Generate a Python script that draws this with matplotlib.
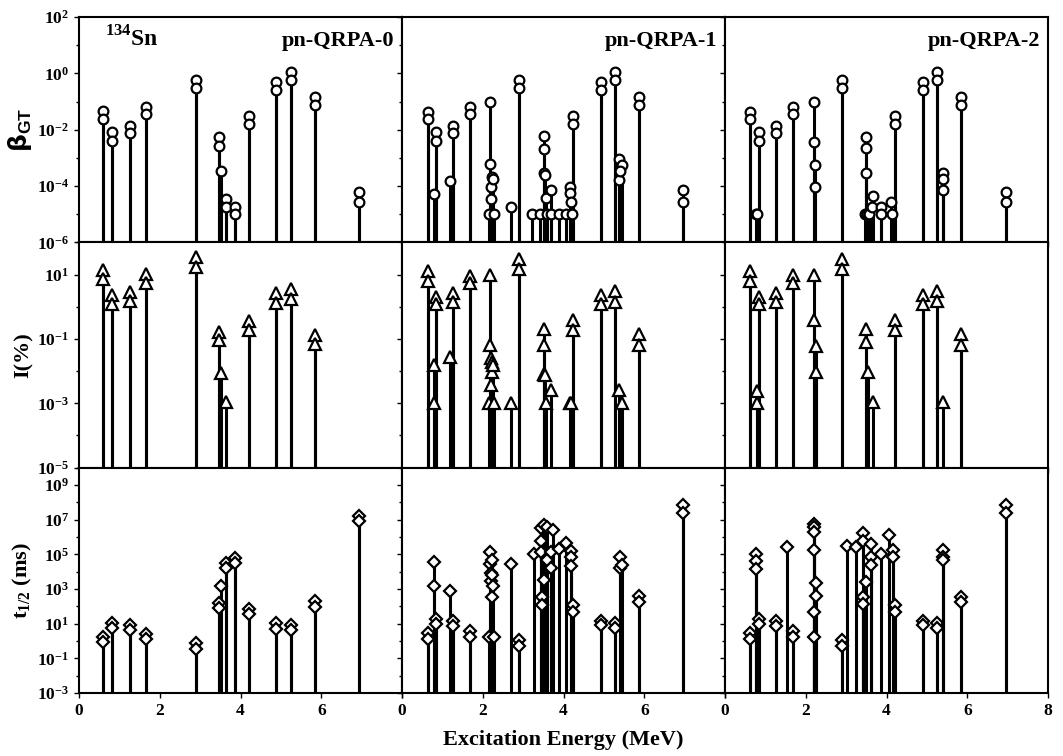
import numpy as np
import matplotlib
matplotlib.use("Agg")
import matplotlib.pyplot as plt

plt.rcParams['font.family'] = ['Liberation Serif', 'DejaVu Serif']
plt.rcParams['font.weight'] = 'bold'
plt.rcParams['mathtext.fontset'] = 'custom'
plt.rcParams['mathtext.rm'] = 'Liberation Serif:bold'
plt.rcParams['mathtext.bf'] = 'Liberation Serif:bold'
plt.rcParams['mathtext.sf'] = 'Liberation Sans:bold'

# ---------------- data ----------------
models = ['pn-QRPA-0', 'pn-QRPA-1', 'pn-QRPA-2']

# beta_GT strengths
bgt0_e = [0.60, 0.60, 0.82, 0.82, 1.26, 1.26, 1.66, 1.66, 2.89, 2.89, 3.47, 3.47, 3.51, 3.65, 3.65,
          3.87, 3.87, 4.21, 4.21, 4.89, 4.89, 5.25, 5.25, 5.84, 5.84, 6.93, 6.93]
bgt0_v = [0.045, 0.023, 0.008, 0.004, 0.014, 0.0074, 0.066, 0.035, 0.6, 0.31, 0.0054, 0.0027, 3.5e-4,
          3.5e-5, 1.8e-5, 1.8e-5, 1e-5, 0.031, 0.016, 0.48, 0.25, 1.15, 0.56, 0.14, 0.074, 6.2e-5, 2.8e-5]

bgt1_e = [0.64, 0.64, 0.80, 0.83, 0.83, 1.19, 1.27, 1.27, 1.68, 1.68, 2.16, 2.18, 2.18, 2.20, 2.20,
          2.24, 2.26, 2.28, 2.70, 2.90, 2.90, 3.23, 3.42, 3.51, 3.51, 3.52, 3.54, 3.56, 3.58, 3.68,
          3.70, 3.89, 4.07, 4.16, 4.16, 4.18, 4.20, 4.24, 4.24, 4.93, 4.93, 5.27, 5.27, 5.38, 5.38,
          5.45, 5.40, 5.87, 5.87, 6.96, 6.96]
bgt1_v = [0.044, 0.023, 5.4e-5, 0.008, 0.004, 1.5e-4, 0.013, 0.0074, 0.066, 0.035, 1e-5, 0.10, 6.2e-4,
          9e-5, 3.6e-5, 2.1e-4, 1.8e-4, 1e-5, 1.8e-5, 0.6, 0.31, 1e-5, 1e-5, 0.0061, 0.0021, 3e-4,
          2.5e-4, 3.8e-5, 1e-5, 7.4e-5, 1e-5, 1e-5, 1e-5, 9.5e-5, 5.5e-5, 2.7e-5, 1e-5, 0.031, 0.016,
          0.48, 0.25, 1.15, 0.56, 8.9e-4, 1.7e-4, 5.6e-4, 3.5e-4, 0.14, 0.074, 7.4e-5, 2.7e-5]

bgt2_e = [0.61, 0.61, 0.77, 0.80, 0.83, 0.83, 1.27, 1.27, 1.67, 1.67, 2.19, 2.19, 2.22, 2.22, 2.90,
          2.90, 3.48, 3.48, 3.50, 3.46, 3.52, 3.56, 3.66, 3.64, 3.87, 3.87, 4.12, 4.14, 4.22, 4.22,
          4.90, 4.90, 5.26, 5.26, 5.40, 5.40, 5.40, 5.85, 5.85, 6.95, 6.95]
bgt2_v = [0.044, 0.023, 1e-5, 1e-5, 0.008, 0.004, 0.013, 0.0074, 0.066, 0.035, 0.10, 0.0036, 5.4e-4,
          9e-5, 0.6, 0.31, 0.0057, 0.0023, 2.9e-4, 1e-5, 1e-5, 1e-5, 4.5e-5, 1.8e-5, 1.8e-5, 1e-5,
          2.7e-5, 1e-5, 0.031, 0.016, 0.48, 0.25, 1.15, 0.56, 3e-4, 1.8e-4, 7.2e-5, 0.14, 0.074,
          6.3e-5, 2.7e-5]

# branching intensities I(%)
int0_e = [0.60, 0.60, 0.82, 0.82, 1.26, 1.26, 1.66, 1.66, 2.89, 2.89, 3.47, 3.47, 3.51, 3.65,
          4.21, 4.21, 4.89, 4.89, 5.25, 5.25, 5.84, 5.84]
int0_v = [14, 7.5, 2.3, 1.2, 2.9, 1.5, 10.7, 5.6, 34, 17, 0.17, 0.093, 0.0085, 0.0011,
          0.36, 0.19, 2.6, 1.3, 3.5, 1.8, 0.13, 0.068]

int1_e = [0.64, 0.64, 0.80, 0.80, 0.83, 0.83, 1.19, 1.27, 1.27, 1.68, 1.68, 2.16, 2.18, 2.18, 2.20,
          2.20, 2.22, 2.24, 2.26, 2.28, 2.70, 2.90, 2.90, 3.51, 3.51, 3.52, 3.54, 3.56, 3.68, 4.16,
          4.18, 4.24, 4.24, 4.93, 4.93, 5.27, 5.27, 5.38, 5.45, 5.87, 5.87]
int1_v = [13, 6.3, 0.015, 0.001, 2.0, 1.2, 0.028, 2.7, 1.4, 9.3, 5.3, 0.001, 9.6, 0.066, 0.026,
          0.0037, 0.0093, 0.019, 0.016, 0.001, 0.001, 31, 14.5, 0.21, 0.066, 0.0081, 0.0075, 0.001,
          0.0025, 0.001, 0.001, 0.39, 0.19, 2.3, 1.2, 3.0, 1.4, 0.0025, 0.001, 0.14, 0.066]

int2_e = [0.61, 0.61, 0.78, 0.78, 0.83, 0.83, 1.27, 1.27, 1.67, 1.67, 2.19, 2.19, 2.24, 2.24, 2.90,
          2.90, 3.48, 3.48, 3.53, 3.66, 4.22, 4.22, 4.90, 4.90, 5.26, 5.26, 5.40, 5.85, 5.85]
int2_v = [13, 6.3, 0.0024, 0.001, 2.0, 1.2, 2.7, 1.4, 9.6, 5.3, 9.6, 0.39, 0.059, 0.0095, 31,
          15, 0.21, 0.079, 0.0095, 0.0011, 0.39, 0.19, 2.3, 1.2, 3.0, 1.5, 0.0011, 0.14, 0.066]

# partial half-lives t1/2 (ms)
t0_e = [0.60, 0.60, 0.82, 0.82, 1.26, 1.26, 1.66, 1.66, 2.89, 2.89, 3.47, 3.47, 3.51, 3.65, 3.65,
        3.87, 3.87, 4.21, 4.21, 4.89, 4.89, 5.25, 5.25, 5.84, 5.84, 6.93, 6.93]
t0_v = [1.8, 0.93, 10.7, 5.6, 8.7, 4.5, 2.6, 1.3, 0.76, 0.37, 155, 80, 1500, 31000, 16000,
        60000, 31000, 69, 36, 10.7, 5.1, 8, 4.1, 210, 98, 1.7e7, 8.5e6]

t1_e = [0.64, 0.64, 0.78, 0.78, 0.83, 0.83, 1.19, 1.27, 1.27, 1.68, 1.68, 2.16, 2.18, 2.18, 2.20,
        2.20, 2.22, 2.24, 2.24, 2.26, 2.28, 2.70, 2.90, 2.90, 3.27, 3.45, 3.45, 3.45, 3.47, 3.47,
        3.51, 3.51, 3.58, 3.58, 3.68, 3.68, 3.75, 3.89, 4.07, 4.18, 4.18, 4.18, 4.24, 4.24, 4.93,
        4.93, 5.27, 5.27, 5.40, 5.40, 5.45, 5.87, 5.87, 6.96, 6.96]
t1_v = [2.9, 1.35, 35000, 1500, 18.5, 9.5, 720, 13.5, 6.9, 3.9, 1.8, 1.8, 1.45e5, 28000, 8300,
        3100, 370, 48000, 6600, 1400, 1.8, 27000, 1.2, 0.55, 1e5, 3.2e6, 6e5, 1.4e5, 370, 120,
        5e6, 3400, 4e6, 48000, 1.45e5, 16000, 2.6e6, 2e5, 4.4e5, 1.6e5, 74000, 22000, 120, 45, 15,
        8, 10.8, 5.6, 74000, 16000, 24000, 400, 190, 7e7, 2.3e7]

t2_e = [0.61, 0.61, 0.77, 0.77, 0.77, 0.83, 0.83, 1.27, 1.27, 1.54, 1.68, 1.68, 2.19, 2.19, 2.19,
        2.19, 2.19, 2.19, 2.24, 2.24, 2.90, 2.90, 3.01, 3.23, 3.42, 3.42, 3.42, 3.42, 3.48, 3.61,
        3.61, 3.61, 3.87, 4.05, 4.15, 4.15, 4.22, 4.22, 4.90, 4.90, 5.26, 5.26, 5.40, 5.40, 5.40,
        5.85, 5.85, 6.95, 6.95]
t2_v = [2.9, 1.35, 1.07e5, 39000, 14000, 18.5, 9.5, 13.5, 6.9, 2.5e5, 3.9, 1.8, 5.8e6, 4e6, 2e6,
        1.8e5, 50, 1.8, 2300, 400, 1.2, 0.55, 3e5, 2.6e5, 1.8e6, 6e5, 370, 135, 2600, 4e5,
        74000, 24000, 1e5, 1.3e6, 1.8e5, 74000, 120, 45, 15, 8, 11, 5.8, 1.8e5, 66000, 48000,
        370, 190, 7e7, 2.3e7]

rows = [
    [(bgt0_e, bgt0_v), (bgt1_e, bgt1_v), (bgt2_e, bgt2_v)],
    [(int0_e, int0_v), (int1_e, int1_v), (int2_e, int2_v)],
    [(t0_e, t0_v), (t1_e, t1_v), (t2_e, t2_v)],
]

# per-row axis settings: (ylim exponents, labelled exponents, marker, size)
row_ylim = [(-6, 2), (-5, 2), (-3, 10)]
row_major = [np.arange(-6, 3, 2), np.arange(-5, 2, 2), np.arange(-3, 10, 2)]
row_minor = [np.arange(-5, 2, 2), np.arange(-4, 3, 2), np.arange(-2, 11, 2)]
row_marker = [('o', 7.0), ('^', 8.4), ('D', 5.9)]
row_label = [r'β$_{\mathsf{GT}}$', 'I(%)', r't$_{1/2}$ (ms)']
row_label_size = [18, 16, 16]

# ---------------- figure ----------------
fig, axes = plt.subplots(3, 3, figsize=(10.63, 7.56), dpi=100)
fig.subplots_adjust(left=0.0743, right=0.986, top=0.9775, bottom=0.0833,
                    wspace=0, hspace=0)

for r in range(3):
    lo, hi = row_ylim[r]
    mk, ms = row_marker[r]
    for c in range(3):
        ax = axes[r, c]
        e, v = rows[r][c]
        ax.set_yscale('log')
        ax.set_xlim(0, 8)
        ax.set_ylim(10.0 ** lo, 10.0 ** hi)
        ax.vlines(e, 10.0 ** lo, v, color='black', lw=2.2, zorder=2)
        ax.plot(e, v, ls='none', marker=mk, ms=ms, mfc='white', mec='black',
                mew=1.6, zorder=3, clip_on=False)

        ax.set_yticks(10.0 ** row_major[r])
        ax.set_yticks(10.0 ** row_minor[r], minor=True)
        ax.set_xticks([0, 2, 4, 6, 8])
        ax.tick_params(which='both', direction='out', width=1.0, labelsize=12.5)
        ax.tick_params(which='major', length=3.5)
        ax.tick_params(which='minor', length=2.5)
        for s in ax.spines.values():
            s.set_linewidth(1.5)

        if c == 0:
            ax.set_yticklabels([r'$\mathbf{10^{%d}}$' % k for k in row_major[r]])
            ax.set_yticklabels([], minor=True)
            ax.set_ylabel(row_label[r], fontsize=row_label_size[r], fontweight='bold')
            ax.yaxis.set_label_coords(-0.14, 0.5)
        else:
            ax.set_yticklabels([])
            ax.set_yticklabels([], minor=True)

        if r == 2:
            labs = ['0', '2', '4', '6', '8' if c == 2 else '']
            ax.set_xticklabels(labs, fontweight='bold')
        else:
            ax.set_xticklabels([])

        if r == 0:
            ax.text(0.975, 0.895, models[c], transform=ax.transAxes, ha='right',
                    va='center', fontsize=16, fontweight='bold')

axes[0, 0].yaxis.label.set_family(['DejaVu Sans'])
axes[0, 0].text(0.08, 0.905, r'$^{134}$Sn', transform=axes[0, 0].transAxes,
                ha='left', va='center', fontsize=17, fontweight='bold')

fig.text(563 / 1063, 1 - 740 / 756, 'Excitation Energy (MeV)', ha='center',
         va='center', fontsize=16, fontweight='bold')

fig.savefig('out.png', dpi=100)
